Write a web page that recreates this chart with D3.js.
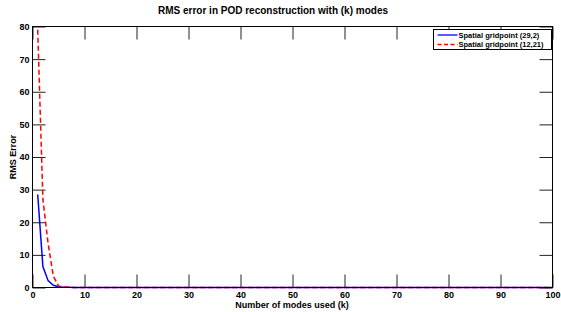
<!DOCTYPE html>
<html>
<head>
<meta charset="utf-8">
<script src="https://cdn.jsdelivr.net/npm/d3@7"></script>
<style>
  body { margin: 0; background: #fff; }
  svg { display: block; font-family: "Liberation Sans", Arial, sans-serif; font-weight: bold; }
</style>
</head>
<body>
<svg id="chart" width="561" height="312"></svg>
<script>
// values, k = 1..100
var modes = d3.range(1, 101);
var gridA = [28.5, 6.4, 2.1, 0.7, 0.25, 0.1, 0.05, 0.02, 0.01, 0.01,
  0, 0, 0, 0, 0, 0, 0, 0, 0, 0, 0, 0, 0, 0, 0, 0, 0, 0, 0, 0,
  0, 0, 0, 0, 0, 0, 0, 0, 0, 0, 0, 0, 0, 0, 0, 0, 0, 0, 0, 0,
  0, 0, 0, 0, 0, 0, 0, 0, 0, 0, 0, 0, 0, 0, 0, 0, 0, 0, 0, 0,
  0, 0, 0, 0, 0, 0, 0, 0, 0, 0, 0, 0, 0, 0, 0, 0, 0, 0, 0, 0,
  0, 0, 0, 0, 0, 0, 0, 0, 0, 0];
var gridB = [79, 27, 13.5, 3.5, 0.5, 0.15, 0.05, 0.02, 0.01, 0.01,
  0, 0, 0, 0, 0, 0, 0, 0, 0, 0, 0, 0, 0, 0, 0, 0, 0, 0, 0, 0,
  0, 0, 0, 0, 0, 0, 0, 0, 0, 0, 0, 0, 0, 0, 0, 0, 0, 0, 0, 0,
  0, 0, 0, 0, 0, 0, 0, 0, 0, 0, 0, 0, 0, 0, 0, 0, 0, 0, 0, 0,
  0, 0, 0, 0, 0, 0, 0, 0, 0, 0, 0, 0, 0, 0, 0, 0, 0, 0, 0, 0,
  0, 0, 0, 0, 0, 0, 0, 0, 0, 0];
var seriesNames = ["Spatial gridpoint (29,2)", "Spatial gridpoint (12,21)"];
var xTicks = d3.range(0, 101, 10);
var yTicks = d3.range(0, 81, 10);

(function() {
    var svg = d3.select("#chart");
    var pLeft = 32.5, pRight = 552.5, pTop = 26.5, pBottom = 287.5;
    var tickLen = 13;

    var x = d3.scaleLinear().domain([0, 100]).range([pLeft, pRight]);
    var y = d3.scaleLinear().domain([0, 80]).range([pBottom, pTop]);

    var line = d3.line()
        .x(function(d, i) { return x(modes[i]); })
        .y(function(d) { return y(d); });

    // axes, with inward ticks on all four sides
    var g = svg.append("g");
    g.append("g").attr("transform", "translate(0," + pBottom + ")")
        .call(d3.axisBottom(x).tickValues(xTicks).tickSizeInner(-tickLen).tickSizeOuter(0).tickPadding(4));
    g.append("g").attr("transform", "translate(0," + pTop + ")")
        .call(d3.axisTop(x).tickValues(xTicks).tickSizeInner(-tickLen).tickSizeOuter(0).tickFormat(""));
    g.append("g").attr("transform", "translate(" + pLeft + ",0)")
        .call(d3.axisLeft(y).tickValues(yTicks).tickSizeInner(-tickLen).tickSizeOuter(0).tickPadding(3));
    g.append("g").attr("transform", "translate(" + pRight + ",0)")
        .call(d3.axisRight(y).tickValues(yTicks).tickSizeInner(-tickLen).tickSizeOuter(0).tickFormat(""));

    g.selectAll(".domain").remove();
    g.selectAll(".tick line").attr("stroke", "#222").attr("stroke-width", 1);
    g.selectAll(".tick text").attr("fill", "#000")
        .style("font-size", "9px").style("font-weight", "bold")
        .style("font-family", "'Liberation Sans', Arial, sans-serif");

    // series
    svg.append("path").datum(gridA)
        .attr("d", line).attr("fill", "none")
        .attr("stroke", "#0000ff").attr("stroke-width", 1.5);
    svg.append("path").datum(gridB)
        .attr("d", line).attr("fill", "none")
        .attr("stroke", "#ff0000").attr("stroke-width", 1.5)
        .attr("stroke-dasharray", "5,3");

    // frame
    svg.append("rect")
        .attr("x", pLeft).attr("y", pTop)
        .attr("width", pRight - pLeft).attr("height", pBottom - pTop)
        .attr("fill", "none").attr("stroke", "#000").attr("stroke-width", 1);

    // titles
    svg.append("text").attr("x", 273).attr("y", 14)
        .attr("text-anchor", "middle").style("font-size", "10px")
        .text("RMS error in POD reconstruction with (k) modes");
    svg.append("text").attr("x", 292).attr("y", 308)
        .attr("text-anchor", "middle").style("font-size", "9px")
        .text("Number of modes used (k)");
    svg.append("text")
        .attr("transform", "translate(16,157) rotate(-90)")
        .attr("text-anchor", "middle").style("font-size", "9px")
        .text("RMS Error");

    // legend
    var lg = svg.append("g").attr("transform", "translate(433.5,29.5)");
    lg.append("rect").attr("width", 118).attr("height", 20)
        .attr("fill", "#fff").attr("stroke", "#000").attr("stroke-width", 1);
    var styles = [{ c: "#0000ff", dash: null }, { c: "#ff0000", dash: "4,2.5" }];
    seriesNames.forEach(function(name, i) {
        var yy = 5.5 + i * 9.5;
        lg.append("line").attr("x1", 4).attr("x2", 24).attr("y1", yy).attr("y2", yy)
            .attr("stroke", styles[i].c).attr("stroke-width", 1.3)
            .attr("stroke-dasharray", styles[i].dash);
        lg.append("text").attr("x", 25).attr("y", yy + 2.7)
            .style("font-size", "7.5px").text(name);
    });
})();
</script>
</body>
</html>
